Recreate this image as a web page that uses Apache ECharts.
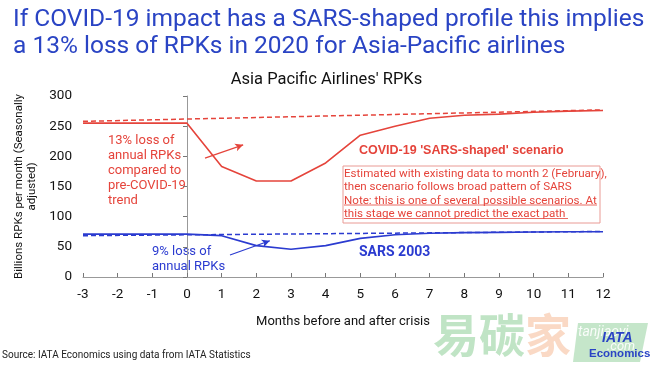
<!DOCTYPE html>
<html><head><meta charset="utf-8">
<script src="https://cdn.jsdelivr.net/npm/echarts@6/dist/echarts.min.js"></script>
<style>html,body{margin:0;padding:0;background:#fff}#c{width:653px;height:372px}</style>
</head><body><div id="c"></div>
<script>
const months = [-3,-2,-1,0,1,2,3,4,5,6,7,8,9,10,11,12];
const covidScenario = [255,255,255,255,183,159,159,189,235,250,263,268,270,273,275,276];
const sars2003 = [71,71,71,71,68.5,52,46,52,64,70,72.5,73.5,74,74.5,75,75];
const covidTrendEnds = [[-3,258],[12,277]];
const sarsTrendEnds = [[-3,68.5],[12,75.5]];
const yTicks = [0,50,100,150,200,250,300];

const RED = '#E5443B', BLUE = '#2B3BD0', TITLE = '#2A44C4';
const pair = (xs, ys) => xs.map((x,i)=>[x, ys[i]]);

const chart = echarts.init(document.getElementById('c'), null, {renderer:'canvas'});
chart.setOption({
  animation:false,
  backgroundColor:'#fff',
  title:[
    {text:'If COVID-19 impact has a SARS-shaped profile this implies\na 13% loss of RPKs in 2020 for Asia-Pacific airlines', left:8, top:1,
     textStyle:{color:TITLE, fontSize:24.5, fontWeight:'normal', fontFamily:'Roboto', lineHeight:27}},
    {text:"Asia Pacific Airlines' RPKs", left:'center', top:66,
     textStyle:{color:'#111', fontSize:16.5, fontWeight:'normal', fontFamily:'Roboto'}}
  ],
  grid:{left:83, right:50, top:96, bottom:95},
  xAxis:{type:'value', min:-3, max:12, interval:1,
    name:'Months before and after crisis', nameLocation:'middle', nameGap:38,
    nameTextStyle:{color:'#111', fontSize:13, fontFamily:'Roboto'},
    axisLine:{lineStyle:{color:'#999'}}, axisTick:{inside:true, length:4, lineStyle:{color:'#777'}},
    axisLabel:{color:'#111', fontSize:13.5, fontFamily:'Roboto', margin:11},
    splitLine:{show:false}},
  yAxis:{type:'value', min:0, max:300, interval:50,
    name:'Billions RPKs per month (Seasonally\nadjusted)', nameLocation:'middle', nameGap:38, nameRotate:90,
    nameTextStyle:{color:'#111', fontSize:11.5, fontFamily:'Roboto', lineHeight:13},
    axisLine:{show:true, lineStyle:{color:'#999'}}, axisTick:{show:true, length:4, lineStyle:{color:'#777'}},
    axisLabel:{color:'#111', fontSize:13.5, fontFamily:'Roboto', margin:11, formatter:v=>yTicks.includes(v)?String(v):''},
    splitLine:{show:false}},
  series:[
    {type:'line', data:covidTrendEnds, symbol:'none', lineStyle:{color:RED, width:1.5, type:[5,3]}},
    {type:'line', data:sarsTrendEnds, symbol:'none', lineStyle:{color:BLUE, width:1.5, type:[5,3]}},
    {type:'line', data:pair(months,covidScenario), symbol:'none', lineStyle:{color:RED, width:1.6},
     markLine:{silent:true, symbol:['none','arrow'], symbolSize:[6,8], label:{show:false},
       lineStyle:{color:RED, width:1.2, type:'solid'},
       data:[[{coord:[0.52,197]},{coord:[1.62,219]}]]}},
    {type:'line', data:pair(months,sars2003), symbol:'none', lineStyle:{color:BLUE, width:1.6},
     markLine:{silent:true, symbol:['none','arrow'], symbolSize:[6,8], label:{show:false},
       lineStyle:{color:BLUE, width:1.2, type:'solid'},
       data:[[{coord:[1.24,36.5]},{coord:[2.39,60]}]]}}
  ],
  graphic:[
    {type:'text', left:108, top:133, style:{text:'13% loss of\nannual RPKs\ncompared to\npre-COVID-19\ntrend', fill:RED, font:'13px Roboto', lineHeight:15}},
    {type:'text', left:152, top:244, style:{text:'9% loss of\nannual RPKs', fill:BLUE, font:'13px Roboto', lineHeight:15}},
    {type:'text', left:359, top:144, style:{text:"COVID-19 'SARS-shaped' scenario", fill:RED, fontSize:12.5, fontWeight:'bold', fontFamily:'Liberation Sans'}},
    {type:'text', left:359, top:245, style:{text:'SARS 2003', fill:BLUE, fontSize:14, fontWeight:'bold', fontFamily:'Roboto'}},
    {type:'rect', shape:{x:343, y:166, width:257, height:57}, style:{fill:'#fff', stroke:'#E99a94', lineWidth:1}},
    {type:'text', left:344, top:167, style:{text:'Estimated with existing data to month 2 (February),\nthen scenario follows broad pattern of SARS\nNote: this is one of several possible scenarios. At\nthis stage we cannot predict the exact path', fill:RED, font:'11.6px Roboto', lineHeight:13.5}},
    {type:'line', shape:{x1:344, y1:205, x2:597, y2:205}, style:{stroke:RED, lineWidth:0.8}},
    {type:'line', shape:{x1:344, y1:218.5, x2:568, y2:218.5}, style:{stroke:RED, lineWidth:0.8}},
    {type:'text', left:2, top:350, style:{text:'Source: IATA Economics using data from IATA Statistics', fill:'#222', font:'10px Roboto'}},
    {type:'text', x:433, y:312, style:{text:'易碳', fill:'rgba(140,205,150,0.55)', font:'bold 46px "Noto Sans CJK SC"'}},
    {type:'text', x:525, y:312, style:{text:'家', fill:'rgba(245,180,140,0.5)', font:'bold 46px "Noto Sans CJK SC"'}},
    {type:'polygon', shape:{points:[[578,323],[648,323],[640,362],[573,362]]}, style:{fill:'rgba(140,205,150,0.5)'}},
    {type:'text', left:578, top:325, style:{text:'tanjiaoyi', fill:'rgba(255,255,255,0.9)', font:'italic 14px Roboto'}},
    {type:'text', left:607, top:340, style:{text:'.com', fill:'rgba(255,255,255,0.9)', font:'italic 13px Roboto'}},
    {type:'text', left:602, top:331, style:{text:'IATA', fill:'#2A44C4', font:'italic bold 14px "Liberation Sans"'}},
    {type:'text', left:589, top:348, style:{text:'Economics', fill:'#2A44C4', font:'bold 11.5px "Liberation Sans"'}}
  ]
});
</script></body></html>
